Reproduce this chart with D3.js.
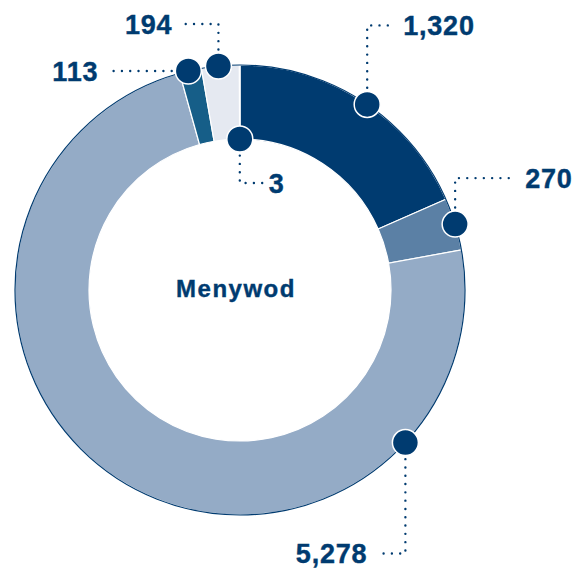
<!DOCTYPE html>
<html>
<head>
<meta charset="utf-8">
<script src="https://cdn.jsdelivr.net/npm/d3@7"></script>
<style>
  body { margin: 0; background: #fff; }
  text { font-family: "Liberation Sans", Arial, Helvetica, sans-serif; font-weight: bold; fill: #003b70; stroke: #003b70; stroke-width: 0.4px; }
</style>
</head>
<body>
<div id="chart"></div>
<script>
// data
var categories = ["a", "b", "c", "d", "e", "f"];
var values = [1320, 270, 5278, 113, 194, 3];
var labels = ["1,320", "270", "5,278", "113", "194", "3"];
var centreLabel = "Menywod";

// chart dimensions
var width = 585, height = 568;
var cx = 240, cy = 290;
var outerR = 225, innerR = 151;
var navy = "#003b70";

var color = d3.scaleOrdinal()
    .domain(categories)
    .range(["#003b70", "#5b80a5", "#94abc6", "#165e88", "#e5e9f1", "#003b70"]);

// where each marker sits: fraction through the slice, ring edge, leader legs
var markers = [
    { at: 0.52, edge: "outer", up: -79, across: 24, gap: 12 },
    { at: 0.5, edge: "outer", up: -46, across: 60, gap: 10 },
    { at: 0.2, edge: "outer", up: 111, across: -26, gap: 12 },
    { at: 0.4, edge: "outer", up: 0, across: -80, gap: 10 },
    { at: 0.45, edge: "outer", up: -42, across: -39, gap: 7 },
    { at: 0.5, edge: "inner", up: 44, across: 23, gap: 6 }
];

var svg = d3.select('#chart')
    .append('svg')
    .attr('width', width)
    .attr('height', height)
    .append('g')
    .attr('transform', `translate(${cx}, ${cy})`);

var pie = d3.pie().sort(null).value(function (d) { return d; });
var arc = d3.arc().innerRadius(innerR).outerRadius(outerR);
var arcs = pie(values);

svg.selectAll('path.slice')
    .data(arcs)
    .enter()
    .append('path')
    .attr('class', 'slice')
    .attr('d', arc)
    .attr('fill', function (d, i) { return color(categories[i]); })
    .attr('stroke', '#fff')
    .attr('stroke-width', 1.2);

// thin navy rim
svg.append('circle')
    .attr('r', outerR)
    .attr('fill', 'none')
    .attr('stroke', navy)
    .attr('stroke-width', 1.2);

svg.append('text')
    .attr('x', -4)
    .attr('y', -2)
    .attr('dy', '0.36em')
    .attr('text-anchor', 'middle')
    .style('font-size', '24px')
    .style('letter-spacing', '1.5px')
    .text(centreLabel);

// marker positions
var points = arcs.map(function (d, i) {
    var m = markers[i];
    var a = d.startAngle + (d.endAngle - d.startAngle) * m.at;
    var r = m.edge == "inner" ? innerR : outerR;
    return { x: r * Math.sin(a), y: -r * Math.cos(a), m: m, label: labels[i] };
});

// dotted leaders
svg.selectAll('path.leader')
    .data(points)
    .enter()
    .append('path')
    .attr('class', 'leader')
    .attr('d', function (p) {
        return `M${p.x},${p.y} L${p.x},${p.y + p.m.up} L${p.x + p.m.across},${p.y + p.m.up}`;
    })
    .attr('fill', 'none')
    .attr('stroke', navy)
    .attr('stroke-width', 2.4)
    .attr('stroke-linecap', 'round')
    .attr('stroke-dasharray', '0 8.3');

svg.selectAll('circle.dot')
    .data(points)
    .enter()
    .append('circle')
    .attr('class', 'dot')
    .attr('cx', function (p) { return p.x; })
    .attr('cy', function (p) { return p.y; })
    .attr('r', 13)
    .attr('fill', navy)
    .attr('stroke', '#fff')
    .attr('stroke-width', 1.5);

svg.selectAll('text.value')
    .data(points)
    .enter()
    .append('text')
    .attr('class', 'value')
    .attr('x', function (p) { return p.x + p.m.across + (p.m.across < 0 ? -p.m.gap : p.m.gap); })
    .attr('y', function (p) { return p.y + p.m.up; })
    .attr('dy', '0.36em')
    .attr('text-anchor', function (p) { return p.m.across < 0 ? 'end' : 'start'; })
    .style('font-size', '27px')
    .style('letter-spacing', '0.8px')
    .text(function (p) { return p.label; });
</script>
</body>
</html>
